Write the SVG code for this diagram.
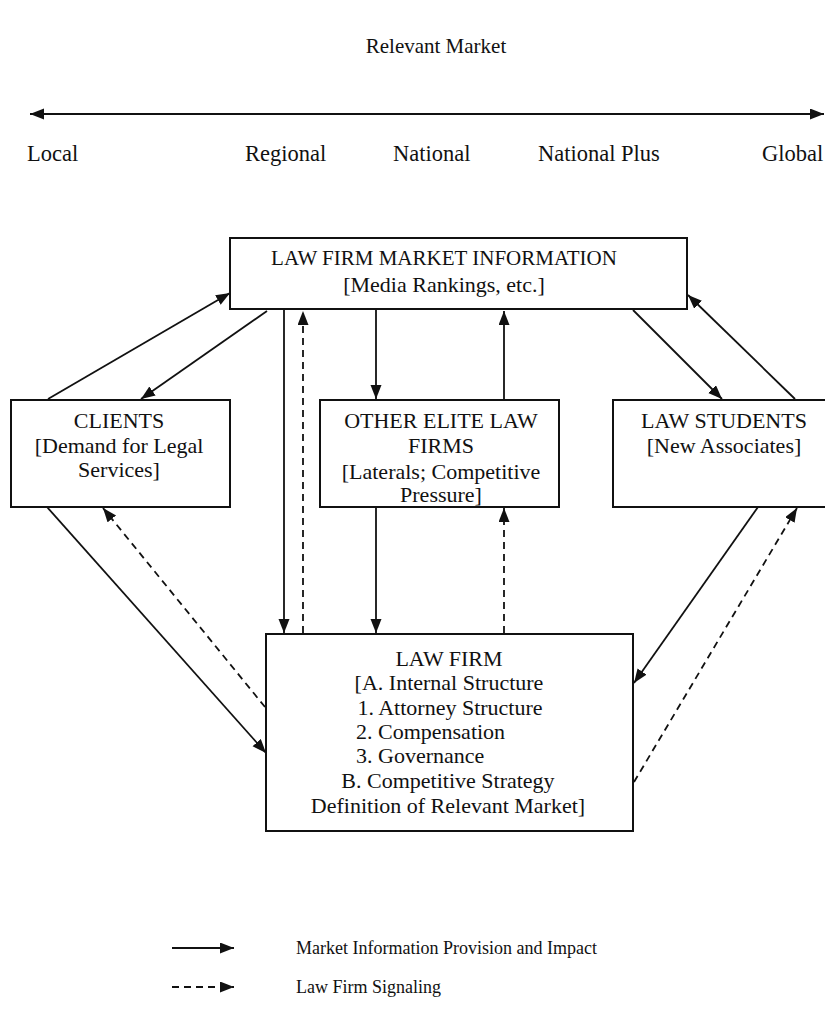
<svg xmlns="http://www.w3.org/2000/svg" width="825" height="1024" viewBox="0 0 825 1024">
<style>
text{font-family:"Liberation Serif","Times New Roman",serif;fill:#111;}
.t{font-size:22px;text-anchor:middle;}
.h{font-size:21px;}
.ax{font-size:22.5px;}
.lg{font-size:18px;}
.l{text-anchor:start;}
.box{fill:#fff;stroke:#111;stroke-width:2;}
.s{stroke:#111;stroke-width:1.8;fill:none;marker-end:url(#ah);}
.d{stroke:#111;stroke-width:1.8;fill:none;stroke-dasharray:7 5;marker-end:url(#ah);}
</style>
<defs>
<marker id="ah" markerUnits="userSpaceOnUse" markerWidth="15" markerHeight="12" refX="14" refY="5.5" orient="auto">
<path d="M0,0 L14,5.5 L0,11 Z" fill="#111"/>
</marker>
<marker id="ahs" markerUnits="userSpaceOnUse" markerWidth="15" markerHeight="12" refX="14" refY="5.5" orient="auto-start-reverse">
<path d="M0,0 L14,5.5 L0,11 Z" fill="#111"/>
</marker>
</defs>
<rect width="825" height="1024" fill="#fff"/>

<g id="scale">
<text class="t h" x="436" y="53">Relevant Market</text>
<line x1="30" y1="114" x2="824" y2="114" stroke="#111" stroke-width="2" marker-start="url(#ahs)" marker-end="url(#ahs)"/>
<text class="ax" x="27" y="161">Local</text>
<text class="ax" x="245" y="161">Regional</text>
<text class="ax" x="393" y="161">National</text>
<text class="ax" x="538" y="161">National Plus</text>
<text class="ax" x="762" y="161">Global</text>
</g>

<g id="connectors">
<line class="s" x1="48" y1="399" x2="230" y2="293"/>
<line class="s" x1="267" y1="311" x2="141" y2="399"/>
<line class="s" x1="284" y1="310" x2="284" y2="633"/>
<line class="d" x1="303" y1="633" x2="303" y2="311"/>
<line class="s" x1="376" y1="310" x2="376" y2="399"/>
<line class="s" x1="504" y1="399" x2="504" y2="311"/>
<line class="s" x1="633" y1="310" x2="722" y2="399"/>
<line class="s" x1="795" y1="399" x2="688" y2="295"/>
<line class="s" x1="376" y1="507" x2="376" y2="633"/>
<line class="d" x1="504" y1="633" x2="504" y2="508"/>
<line class="s" x1="47" y1="507" x2="266" y2="753"/>
<line class="d" x1="265" y1="707" x2="103" y2="508"/>
<line class="s" x1="758" y1="507" x2="634" y2="683"/>
<line class="d" x1="634" y1="782" x2="797" y2="508"/>
</g>

<g id="market-info">
<rect class="box" x="230" y="238" width="457" height="71"/>
<text class="t h" x="444" y="265">LAW FIRM MARKET INFORMATION</text>
<text class="t" x="444" y="292">[Media Rankings, etc.]</text>
</g>

<g id="clients">
<rect class="box" x="11" y="400" width="219" height="107"/>
<text class="t" x="119" y="428">CLIENTS</text>
<text class="t" x="119" y="453">[Demand for Legal</text>
<text class="t" x="119" y="477">Services]</text>
</g>

<g id="elite">
<rect class="box" x="320" y="400" width="239" height="107"/>
<text class="t" x="441" y="428">OTHER ELITE LAW</text>
<text class="t" x="441" y="453">FIRMS</text>
<text class="t" x="441" y="479">[Laterals; Competitive</text>
<text class="t" x="441" y="502">Pressure]</text>
</g>

<g id="students">
<rect class="box" x="613" y="400" width="220" height="107"/>
<text class="t" x="724" y="428">LAW STUDENTS</text>
<text class="t" x="724" y="453">[New Associates]</text>
</g>

<g id="law-firm">
<rect class="box" x="266" y="634" width="367" height="197"/>
<text class="t" x="449" y="666">LAW FIRM</text>
<text class="t" x="449" y="690">[A. Internal Structure</text>
<text class="t" x="450" y="715">1. Attorney Structure</text>
<text class="t l" x="356" y="739">2. Compensation</text>
<text class="t l" x="356" y="763">3. Governance</text>
<text class="t" x="448" y="788">B. Competitive Strategy</text>
<text class="t" x="448" y="813">Definition of Relevant Market]</text>
</g>

<g id="legend">
<line class="s" x1="172" y1="948" x2="234" y2="948"/>
<text class="lg" x="296" y="954">Market Information Provision and Impact</text>
<line class="d" x1="172" y1="987" x2="234" y2="987"/>
<text class="lg" x="296" y="993">Law Firm Signaling</text>
</g>
</svg>
